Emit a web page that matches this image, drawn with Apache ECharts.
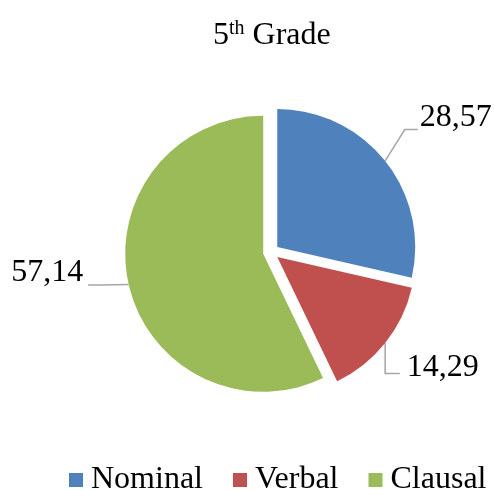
<!DOCTYPE html>
<html>
<head>
<meta charset="utf-8">
<script src="https://cdn.jsdelivr.net/npm/echarts@6/dist/echarts.min.js"></script>
<style>
  html, body { margin: 0; padding: 0; background: #fff; }
  #chart { width: 494px; height: 491px; }
</style>
</head>
<body>
<div id="chart"></div>
<script>
const categories = ['Nominal', 'Verbal', 'Clausal']
const values = [28.57, 14.29, 57.14]
const colors = ['#4F81BD', '#C0504D', '#9BBB59']
// small nudges so labels sit where the original puts them
const labelShift = [[2, -31], [-11, 12], [-9, -16]]

const chart = echarts.init(document.getElementById('chart'))
const serif = '"Liberation Serif", "Times New Roman", serif'

const pieData = categories.map((name, i) => ({
  name: name,
  value: values[i],
  selected: true,
  itemStyle: { color: colors[i] }
}))

// re-route the leader line to the moved label, starting from the slice edge
function moveLabel(p) {
  const [dx, dy] = labelShift[p.dataIndex]
  const r = p.labelRect
  const start = p.labelLinePoints[0]
  const left = r.x + dx
  const right = r.x + r.width + dx
  const cy = r.y + dy + r.height / 2
  let pts
  if (p.dataIndex === 0) {
    const ey = cy + 12
    pts = [start, [left - 15, ey], [left - 2, ey]]
  } else if (p.dataIndex === 1) {
    const ey = cy + 6
    pts = [start, [start[0], ey], [left - 7, ey]]
  } else {
    const ey = cy + 12
    pts = [start, [right + 18, ey], [right + 5, ey]]
  }
  return { dx: dx, dy: dy, labelLinePoints: pts }
}

chart.setOption({
  backgroundColor: '#fff',
  animation: false,
  title: {
    text: '5{sup|th} Grade',
    left: 208,
    top: 14,
    textStyle: {
      fontFamily: serif,
      fontSize: 32,
      fontWeight: 'normal',
      color: '#000',
      rich: {
        sup: {
          fontFamily: serif,
          fontSize: 20,
          verticalAlign: 'top',
          padding: [0, 0, 14, 0],
          color: '#000'
        }
      }
    }
  },
  legend: {
    left: 64,
    top: 459,
    width: 430,
    icon: 'rect',
    itemWidth: 14,
    itemHeight: 14,
    itemGap: 30,
    selectedMode: false,
    data: categories,
    textStyle: {
      fontFamily: serif,
      fontSize: 32,
      color: '#000',
      padding: [0, 0, 0, 3]
    }
  },
  series: [
    {
      type: 'pie',
      center: [271, 252],
      radius: 138,
      startAngle: 90,
      clockwise: true,
      selectedMode: 'multiple',
      selectedOffset: 8,
      label: {
        show: true,
        formatter: (p) => p.value.toFixed(2).replace('.', ','),
        fontFamily: serif,
        fontSize: 32,
        color: '#000'
      },
      labelLine: {
        show: true,
        length: 20,
        length2: 12,
        lineStyle: { color: '#A6A6A6', width: 1.5 }
      },
      labelLayout: moveLabel,
      emphasis: { disabled: true },
      data: pieData
    }
  ]
})
</script>
</body>
</html>
